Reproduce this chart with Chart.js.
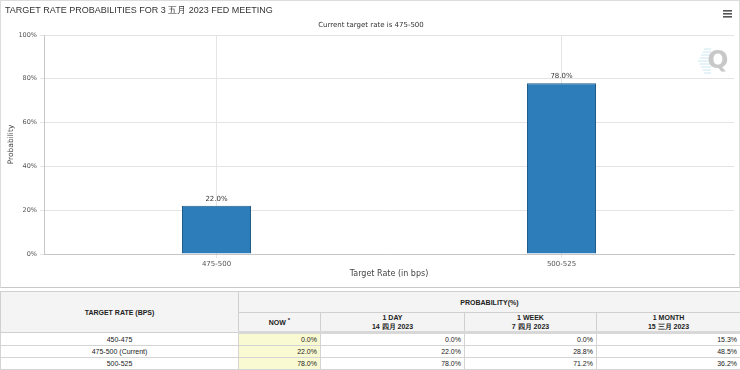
<!DOCTYPE html>
<html>
<head>
<meta charset="utf-8">
<script src="https://cdn.jsdelivr.net/npm/chart.js@4.4.0/dist/chart.umd.min.js"></script>
<style>
    html, body { margin: 0; padding: 0; background: #fff; }
    #marco { position: relative; width: 738px; height: 286px; border: 1px solid #dcdcdc; border-bottom: 1px solid #c8c8c8; }
    #graficoProb { display: block; }
    #tabla {
        position: absolute; left: 0; top: 291px; width: 740px;
        border-collapse: collapse; table-layout: fixed;
        font-family: "Liberation Sans", Arial, sans-serif; font-size: 7px; color: #222;
    }
    #tabla th { background: #f4f4f4; font-weight: bold; text-align: center; border: 1px solid #d0d0d0; padding: 0 4px; line-height: 9px; }
    #tabla td { border: 1px solid #d4d4d4; padding: 0 3px; height: 11px; line-height: 11px; text-align: right; }
    #tabla td.tasa { text-align: center; }
    #tabla td.ahora { background: #fafad2; }
    #tabla tr.sep th { border-bottom: 3px solid #d8d8d8; }
</style>
</head>
<body>
<div id="marco"><canvas id="graficoProb" width="738" height="286"></canvas></div>
<table id="tabla">
    <colgroup><col style="width:238px"><col style="width:82px"><col style="width:144px"><col style="width:132px"><col style="width:144px"></colgroup>
    <tbody id="cuerpoTabla"></tbody>
</table>
<script>
// Datos del gráfico
const categorias = ['475-500', '500-525'];
const probabilidades = [22.0, 78.0];
const tituloGrafico = 'TARGET RATE PROBABILITIES FOR 3 五月 2023 FED MEETING';
const subtituloGrafico = 'Current target rate is 475-500';

// Datos de la tabla
const tasasObjetivo = ['450-475', '475-500 (Current)', '500-525'];
const encabezadosPeriodo = ['NOW', '1 DAY', '1 WEEK', '1 MONTH'];
const fechasPeriodo = ['', '14 四月 2023', '7 四月 2023', '15 三月 2023'];
const probAhora = [0.0, 22.0, 78.0];
const prob1Dia = [0.0, 22.0, 78.0];
const prob1Semana = [0.0, 28.8, 71.2];
const prob1Mes = [15.3, 48.5, 36.2];

const fuenteChica = '"DejaVu Sans", Verdana, sans-serif';

// Plugin para títulos, etiquetas de barras, menú y marca de agua
const pluginDecoracion = {
    id: 'decoracion',
    afterDraw(chart) {
        const ctx = chart.ctx;
        ctx.save();
        // Título
        ctx.fillStyle = '#333';
        ctx.font = '9px "Liberation Sans", Arial, sans-serif';
        ctx.textAlign = 'left';
        ctx.textBaseline = 'middle';
        ctx.fillText(tituloGrafico, 4, 10);
        // Subtítulo
        ctx.font = '7px ' + fuenteChica;
        ctx.textAlign = 'center';
        ctx.fillText(subtituloGrafico, 370, 24);
        // Menú (hamburguesa)
        ctx.fillStyle = '#555';
        [10, 13, 16].forEach(y => ctx.fillRect(722, y - 1, 9, 1.6));
        // Marca de agua Q
        ctx.strokeStyle = 'rgba(170, 215, 235, 0.6)';
        ctx.lineWidth = 1;
        for (let i = 0; i < 9; i++) {
            const y = 48 + i * 3;
            ctx.beginPath();
            ctx.moveTo(697 + Math.abs(i - 4) * 1.5, y);
            ctx.lineTo(710, y);
            ctx.stroke();
        }
        ctx.fillStyle = '#c8c8c8';
        ctx.font = 'bold 25px "DejaVu Sans", sans-serif';
        ctx.textAlign = 'center';
        ctx.fillText('Q', 717, 60);
        // Etiquetas sobre barras
        const meta = chart.getDatasetMeta(0);
        ctx.fillStyle = '#333';
        ctx.font = '7px ' + fuenteChica;
        ctx.textBaseline = 'bottom';
        meta.data.forEach((barra, i) => {
            ctx.fillText(probabilidades[i].toFixed(1) + '%', barra.x, barra.y - 3);
        });
        ctx.restore();
    }
};

function crearGrafico() {
    try {
        const canvas = document.getElementById('graficoProb');
        if (typeof Chart === 'undefined') {
            console.debug('Chart.js no está disponible');
            return false;
        }
        const config = {
            type: 'bar',
            data: {
                labels: categorias,
                datasets: [{
                    label: 'Probability',
                    data: probabilidades,
                    backgroundColor: '#2c7db9',
                    borderColor: '#1f5c8a',
                    borderWidth: 1,
                    categoryPercentage: 1,
                    barPercentage: 0.2
                }]
            },
            options: {
                responsive: false,
                animation: false,
                layout: { padding: { left: 0, right: 5, top: 34, bottom: 4 } },
                plugins: {
                    legend: { display: false },
                    title: { display: false },
                    tooltip: { enabled: false }
                },
                scales: {
                    x: {
                        grid: { offset: false, color: '#e4e4e4', tickLength: 4, drawTicks: true },
                        border: { color: '#c6c6c6' },
                        ticks: { color: '#555', font: { family: fuenteChica, size: 7 }, padding: 2 },
                        title: { display: true, text: 'Target Rate (in bps)', color: '#444', font: { family: fuenteChica, size: 8 }, padding: { top: 0, bottom: 4 } },
                        afterFit(escala) { escala.height = 29; }
                    },
                    y: {
                        min: 0,
                        max: 100,
                        ticks: {
                            stepSize: 20,
                            color: '#555',
                            font: { family: fuenteChica, size: 6.5 },
                            padding: 3,
                            callback: v => v + '%'
                        },
                        grid: { color: '#e4e4e4', tickLength: 4 },
                        border: { color: '#c6c6c6' },
                        title: { display: true, text: 'Probability', color: '#444', font: { family: fuenteChica, size: 7.5 }, padding: { top: 6, bottom: 0 } },
                        afterFit(escala) { escala.width = 43; }
                    }
                }
            },
            plugins: [pluginDecoracion]
        };
        window.graficoProb_chart = new Chart(canvas, config);
        console.debug('Gráfico creado');
        return true;
    } catch (error) {
        console.error('Error creando gráfico:', error);
        return false;
    }
}

function crearTabla() {
    const cuerpo = document.getElementById('cuerpoTabla');
    let html = '<tr style="height:21px"><th rowspan="2">TARGET RATE (BPS)</th><th colspan="4">PROBABILITY(%)</th></tr>';
    html += '<tr class="sep" style="height:20px">';
    encabezadosPeriodo.forEach((enc, i) => {
        const extra = i === 0 ? ' <sup style="font-size:6px">*</sup>' : '';
        const fecha = fechasPeriodo[i] ? '<br>' + fechasPeriodo[i] : '';
        html += '<th>' + enc + extra + fecha + '</th>';
    });
    html += '</tr>';
    tasasObjetivo.forEach((tasa, i) => {
        html += '<tr><td class="tasa">' + tasa + '</td>' +
            '<td class="ahora">' + probAhora[i].toFixed(1) + '%</td>' +
            '<td>' + prob1Dia[i].toFixed(1) + '%</td>' +
            '<td>' + prob1Semana[i].toFixed(1) + '%</td>' +
            '<td>' + prob1Mes[i].toFixed(1) + '%</td></tr>';
    });
    cuerpo.innerHTML = html;
}

crearGrafico();
crearTabla();
</script>
</body>
</html>
